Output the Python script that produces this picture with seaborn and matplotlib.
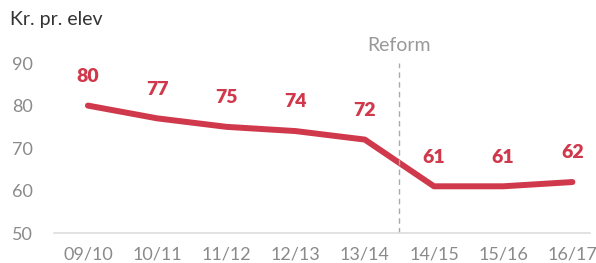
import matplotlib.pyplot as plt
import pandas as pd
import seaborn as sns

YEARS = ["09/10", "10/11", "11/12", "12/13", "13/14", "14/15", "15/16", "16/17"]
KR_PR_ELEV = [80, 77, 75, 74, 72, 61, 61, 62]
Y_TICKS = [50, 60, 70, 80, 90]
REFORM_POS = 4.5

RED = "#d0394b"
GREY = "#8a8a8a"

sns.set_style("white")
plt.rcParams["font.family"] = ["Lato", "DejaVu Sans"]

df = pd.DataFrame({"idx": range(len(YEARS)), "value": KR_PR_ELEV})

fig = plt.figure(figsize=(5.96, 2.63), dpi=100)
ax = fig.add_axes([0.0906, 0.114, 0.90, 0.646])

sns.lineplot(data=df, x="idx", y="value", color=RED, linewidth=4.3, ax=ax,
             solid_capstyle="round", solid_joinstyle="round")

for i, v in enumerate(KR_PR_ELEV):
    ax.annotate(str(v), (i, v), xytext=(0, 21), textcoords="offset points",
                ha="center", va="center", color=RED, fontsize=14,
                fontweight="heavy", annotation_clip=False)

ax.axvline(REFORM_POS, ymin=0, ymax=1, color="#aaaaaa", linestyle=(0, (4, 3)),
           linewidth=1)
ax.text(REFORM_POS, 94.2, "Reform", ha="center", va="center", color="#999999",
        fontsize=14)

ax.set_xlim(-0.49, 7.26)
ax.set_ylim(50, 90)
ax.set_xticks(range(len(YEARS)))
ax.set_xticklabels(YEARS)
ax.set_yticks(Y_TICKS)
ax.tick_params(axis="both", length=0, colors=GREY, labelsize=13)
ax.tick_params(axis="x", pad=10)
ax.tick_params(axis="y", pad=15)
ax.set_xlabel("")
ax.set_ylabel("")

for side in ["top", "right", "left"]:
    ax.spines[side].set_visible(False)
ax.spines["bottom"].set_color("#dddddd")
ax.spines["bottom"].set_linewidth(1.2)

fig.text(0.017, 0.925, "Kr. pr. elev", ha="left", va="center", color="#333333",
         fontsize=14)

fig.savefig("out.png", dpi=100)
